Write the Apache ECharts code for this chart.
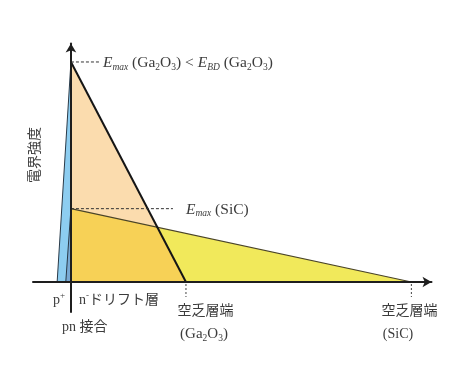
<!DOCTYPE html>
<html><head><meta charset="utf-8">
<script src="https://cdn.jsdelivr.net/npm/echarts@6/dist/echarts.min.js"></script>
<style>html,body{margin:0;padding:0;background:#fff}#c{width:474px;height:373px}</style>
</head><body><div id="c"></div>
<script>
// ---- data (relative units) ----
const materials = ['Ga2O3', 'SiC'];
const peakField = [3, 1];          // E_max at the pn junction
const nDepletion = [1, 2.96];      // depletion edge in the n- drift layer
const pDepletion = [0.12, 0.045];  // depletion width on the p+ side
const axisRangeX = [-0.33, 3.135];
const axisRangeY = [-0.409, 3.252];

// ---- styles ----
const SERIF = "'Liberation Serif', 'Noto Sans CJK JP', serif";
const TXT = '#3c3c3c';
const C = {
  gaFill: '#FBDCAE', sicFill: '#F1E95B', overlap: '#F7D156',
  blueGa: '#8DCDF0', blueSiC: '#78A9D3'
};
function rs(size, italic, va, lh) {
  return {fontFamily: SERIF, fontSize: size, fontStyle: italic ? 'italic' : 'normal',
    verticalAlign: va, lineHeight: lh, fill: TXT};
}
const RICH = {
  r: rs(15.5, false, 'middle', 18), i: rs(15.5, true, 'middle', 18),
  sub: rs(9.5, false, 'bottom', 10), isub: rs(9.5, true, 'bottom', 10),
  sup: rs(9, false, 'top', 10)
};
const RICH14 = {
  r: rs(14, false, 'middle', 18), sub: rs(9, false, 'bottom', 10), sup: rs(9, false, 'top', 10)
};
const RICH15 = {
  r: rs(15, false, 'middle', 18), sub: rs(9.5, false, 'bottom', 10)
};

// intersection of the two field slopes
const Eg = peakField[0], Es = peakField[1], Wg = nDepletion[0], Ws = nDepletion[1];
const xi = (Eg - Es) / (Eg / Wg - Es / Ws);
const Ei = Eg * (1 - xi / Wg);

function renderAll(params, api) {
  const P = (x, y) => api.coord([x, y]);
  const poly = (pts, fill) => ({type: 'polygon', shape: {points: pts.map(p => P(p[0], p[1]))},
    style: {fill: fill, stroke: null}});
  const line = (a, b, w, col, dash) => {
    const p1 = P(a[0], a[1]), p2 = P(b[0], b[1]);
    return {type: 'line', shape: {x1: p1[0], y1: p1[1], x2: p2[0], y2: p2[1]},
      style: {stroke: col, lineWidth: w, lineDash: dash || null}};
  };
  const ch = [];
  ch.push(poly([[-pDepletion[0], 0], [0, Eg], [0, 0]], C.blueGa));
  ch.push(poly([[0, 0], [0, Eg], [Wg, 0]], C.gaFill));
  ch.push(poly([[0, 0], [0, Es], [Ws, 0]], C.sicFill));
  ch.push(poly([[0, 0], [0, Es], [xi, Ei], [Wg, 0]], C.overlap));
  ch.push(poly([[-pDepletion[1], 0], [0, Es], [0, 0]], C.blueSiC));
  ch.push(line([-pDepletion[0], 0], [0, Eg], 1, '#2a3a48'));
  ch.push(line([-pDepletion[1], 0], [0, Es], 1, '#2a3a48'));
  ch.push(line([0, Es], [Ws, 0], 1.2, '#4a4428'));
  ch.push(line([0, Eg], [Wg, 0], 2, '#151515'));
  // dashed markers to labels
  const pg = P(0, Eg), ps = P(0, Es);
  ch.push({type: 'line', shape: {x1: pg[0], y1: pg[1], x2: pg[0] + 30, y2: pg[1]},
    style: {stroke: '#333', lineWidth: 1, lineDash: [3, 2]}});
  ch.push({type: 'line', shape: {x1: ps[0], y1: ps[1], x2: ps[0] + 102, y2: ps[1]},
    style: {stroke: '#333', lineWidth: 1, lineDash: [3, 2]}});
  ch.push({type: 'text', x: pg[0] + 32, y: pg[1] + 1, style: {
    text: '{i|E}{isub|max}{r| (Ga}{sub|2}{r|O}{sub|3}{r|) < }{i|E}{isub|BD}{r| (Ga}{sub|2}{r|O}{sub|3}{r|)}',
    rich: RICH, align: 'left', verticalAlign: 'middle', fill: TXT, fontFamily: SERIF, fontSize: 15}});
  ch.push({type: 'text', x: ps[0] + 115, y: ps[1] + 1, style: {
    text: '{i|E}{isub|max}{r| (SiC)}',
    rich: RICH, align: 'left', verticalAlign: 'middle', fill: TXT, fontFamily: SERIF, fontSize: 15}});
  // dotted drops at depletion edges
  [Wg, Ws].forEach(w => {
    const p = P(w, 0);
    ch.push({type: 'line', shape: {x1: p[0], y1: p[1] + 2, x2: p[0], y2: p[1] + 15},
      style: {stroke: '#444', lineWidth: 1, lineDash: [2, 2]}});
  });
  return {type: 'group', children: ch};
}

const chart = echarts.init(document.getElementById('c'), null, {renderer: 'canvas'});
const axisLine = {onZero: true, symbol: ['none', 'arrow'], symbolSize: [8, 9],
  lineStyle: {color: '#1e1e1e', width: 2}};
chart.setOption({
  animation: false,
  backgroundColor: '#fff',
  grid: {left: 33, right: 42.5, top: 43.5, bottom: 61},
  xAxis: {type: 'value', min: axisRangeX[0], max: axisRangeX[1], axisLine: axisLine, z: 5,
    axisTick: {show: false}, axisLabel: {show: false}, splitLine: {show: false}},
  yAxis: {type: 'value', min: axisRangeY[0], max: axisRangeY[1], axisLine: axisLine, z: 5,
    axisTick: {show: false}, axisLabel: {show: false}, splitLine: {show: false}},
  series: [{type: 'custom', coordinateSystem: 'cartesian2d', data: [[0, 0]],
    renderItem: renderAll, z: 1, silent: true}],
  graphic: [
    {type: 'text', x: 35, y: 155, rotation: Math.PI / 2, style: {text: '電界強度',
      fontFamily: SERIF, fontSize: 14, fill: TXT, align: 'center', verticalAlign: 'middle'}},
    {type: 'text', x: 53, y: 300, style: {text: '{r|p}{sup|+}', rich: RICH14, align: 'left', verticalAlign: 'middle'}},
    {type: 'text', x: 79, y: 300, style: {text: '{r|n}{sup|-}{r|ドリフト層}', rich: RICH14, align: 'left', verticalAlign: 'middle'}},
    {type: 'text', x: 62, y: 327, style: {text: 'pn 接合', fontFamily: SERIF, fontSize: 14, fill: TXT, align: 'left', verticalAlign: 'middle'}},
    {type: 'text', x: 205.5, y: 311, style: {text: '空乏層端', fontFamily: SERIF, fontSize: 14, fill: TXT, align: 'center', verticalAlign: 'middle'}},
    {type: 'text', x: 204, y: 334, style: {text: '{r|(Ga}{sub|2}{r|O}{sub|3}{r|)}', rich: RICH15, align: 'center', verticalAlign: 'middle'}},
    {type: 'text', x: 409.5, y: 311, style: {text: '空乏層端', fontFamily: SERIF, fontSize: 14, fill: TXT, align: 'center', verticalAlign: 'middle'}},
    {type: 'text', x: 398, y: 334, style: {text: '(SiC)', fontFamily: SERIF, fontSize: 14, fill: TXT, align: 'center', verticalAlign: 'middle'}}
  ]
});
</script></body></html>
